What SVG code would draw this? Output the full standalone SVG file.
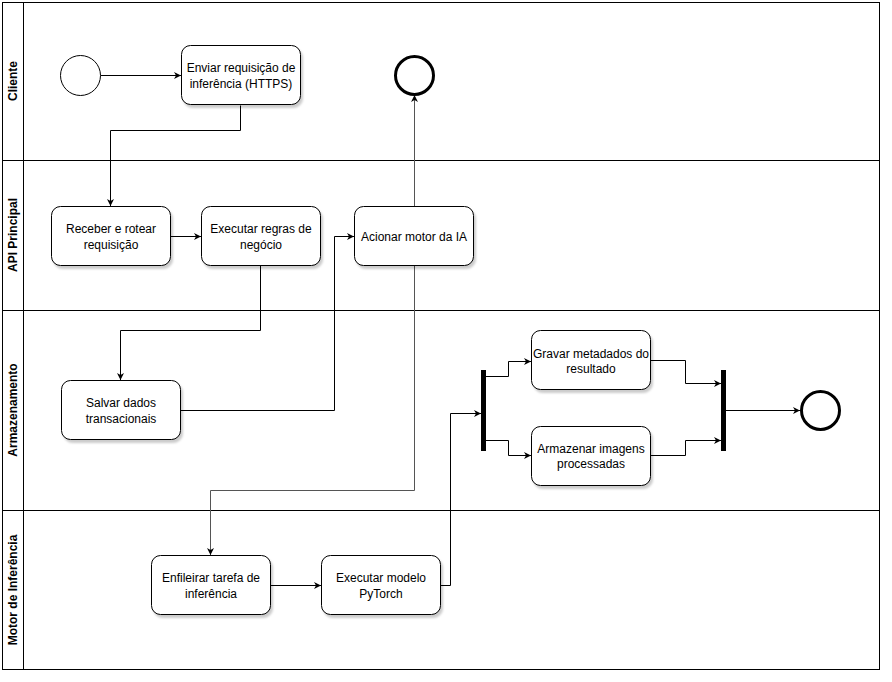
<svg xmlns="http://www.w3.org/2000/svg" width="892" height="682" viewBox="0 0 892 682">
<style>
.lane{fill:none;stroke:#000;stroke-width:1}
.lbl{font-family:"Liberation Sans",Arial,sans-serif;font-size:12px;font-weight:bold;fill:#000;text-anchor:middle}
.box{fill:#fff;stroke:#000;stroke-width:1;filter:url(#sh)}
.t{font-family:"Liberation Sans",Arial,sans-serif;font-size:12px;fill:#000;text-anchor:middle}
.c{fill:none;stroke:#000;stroke-width:1;marker-end:url(#ar)}
.cg{fill:none;stroke:#555;stroke-width:1;marker-end:url(#ar)}
</style>
<defs>
<filter id="sh" x="-10%" y="-10%" width="130%" height="130%">
<feDropShadow dx="2" dy="3" stdDeviation="1.2" flood-color="#000" flood-opacity="0.2"/>
</filter>
<marker id="ar" markerWidth="8" markerHeight="8" refX="7" refY="4" orient="auto" markerUnits="userSpaceOnUse">
<path d="M0,0.5 L7,4 L0,7.5 L2,4 Z" fill="#000"/>
</marker>
</defs>
<rect width="892" height="682" fill="#fff"/>
<g id="pool">
<rect class="lane" x="2.5" y="2.5" width="877" height="667"/>
<line class="lane" x1="23.5" y1="2.5" x2="23.5" y2="669.5"/>
<line class="lane" x1="2.5" y1="160.5" x2="879.5" y2="160.5"/>
<line class="lane" x1="2.5" y1="310.5" x2="879.5" y2="310.5"/>
<line class="lane" x1="2.5" y1="510.5" x2="879.5" y2="510.5"/>
<text class="lbl" transform="translate(17,81) rotate(-90)">Cliente</text>
<text class="lbl" transform="translate(17,235) rotate(-90)">API Principal</text>
<text class="lbl" transform="translate(17,410) rotate(-90)">Armazenamento</text>
<text class="lbl" transform="translate(17,590) rotate(-90)">Motor de Inferência</text>
</g>
<g id="connectors">
<path class="c" d="M100.5,75.5 H181"/>
<path class="c" d="M240.5,105.5 V130.5 H110.5 V206"/>
<path class="c" d="M170.5,236.5 H201"/>
<path class="c" d="M260.5,265.5 V330.5 H120.5 V380"/>
<path class="c" d="M180.5,410.5 H334.5 V236.5 H354"/>
<path class="cg" d="M414.5,206 V95"/>
<path class="cg" d="M414.5,265.5 V490.5 H210.5 V555"/>
<path class="c" d="M270.5,585.5 H321"/>
<path class="c" d="M440.5,585.5 H450.5 V413.5 H481"/>
<path class="c" d="M485.5,376.5 H508.5 V361.5 H531"/>
<path class="c" d="M485.5,440.5 H508.5 V455.5 H531"/>
<path class="c" d="M650.5,360.5 H685.5 V383.5 H721"/>
<path class="c" d="M650.5,455.5 H685.5 V440.5 H721"/>
<path class="c" d="M725.5,410.5 H800"/>
</g>
<g id="start"><circle cx="80.5" cy="75.5" r="20" fill="#fff" stroke="#000" stroke-width="1"/></g>
<g id="end1"><circle cx="414.5" cy="75.5" r="19" fill="#fff" stroke="#000" stroke-width="3"/></g>
<g id="end2"><circle cx="820.5" cy="410.5" r="19" fill="#fff" stroke="#000" stroke-width="3"/></g>
<g id="n-enviar"><rect class="box" x="181.5" y="45.5" width="119" height="59" rx="9"/><text class="t" x="241" y="72">Enviar requisição de</text><text class="t" x="241" y="88">inferência (HTTPS)</text></g>
<g id="n-receber"><rect class="box" x="51.5" y="206.5" width="119" height="59" rx="9"/><text class="t" x="111" y="233">Receber e rotear</text><text class="t" x="111" y="249">requisição</text></g>
<g id="n-regras"><rect class="box" x="201.5" y="206.5" width="119" height="59" rx="9"/><text class="t" x="261" y="233">Executar regras de</text><text class="t" x="261" y="249">negócio</text></g>
<g id="n-acionar"><rect class="box" x="354.5" y="206.5" width="119" height="59" rx="9"/><text class="t" x="414" y="241">Acionar motor da IA</text></g>
<g id="n-salvar"><rect class="box" x="61.5" y="380.5" width="119" height="59" rx="9"/><text class="t" x="121" y="407">Salvar dados</text><text class="t" x="121" y="423">transacionais</text></g>
<g id="n-gravar"><rect class="box" x="531.5" y="330.5" width="119" height="59" rx="9"/><text class="t" x="591" y="358">Gravar metadados do</text><text class="t" x="591" y="373">resultado</text></g>
<g id="n-armazenar"><rect class="box" x="531.5" y="426.5" width="119" height="59" rx="9"/><text class="t" x="591" y="453">Armazenar imagens</text><text class="t" x="591" y="468">processadas</text></g>
<g id="n-enfileirar"><rect class="box" x="151.5" y="555.5" width="119" height="59" rx="9"/><text class="t" x="211" y="582">Enfileirar tarefa de</text><text class="t" x="211" y="598">inferência</text></g>
<g id="n-pytorch"><rect class="box" x="321.5" y="555.5" width="119" height="59" rx="9"/><text class="t" x="381" y="582">Executar modelo</text><text class="t" x="381" y="598">PyTorch</text></g>
<g id="fork"><rect x="481" y="370" width="5" height="81" fill="#000"/></g>
<g id="join"><rect x="721" y="370" width="5" height="81" fill="#000"/></g>
</svg>
